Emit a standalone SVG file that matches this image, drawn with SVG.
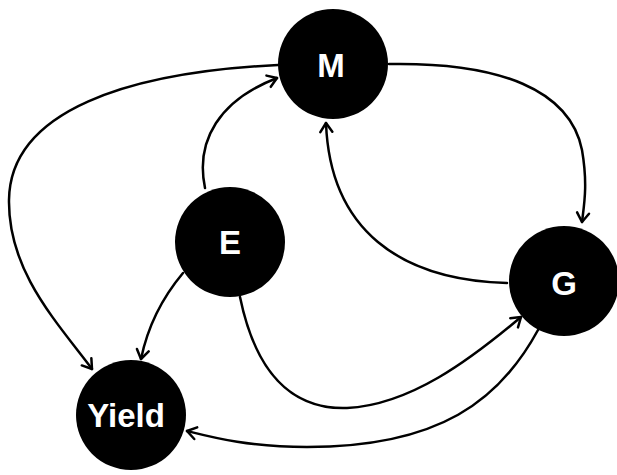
<svg xmlns="http://www.w3.org/2000/svg" width="617" height="475" viewBox="0 0 617 475">
<style>
.node{fill:#000}
.lbl{fill:#fff;font-family:"Liberation Sans",Arial,sans-serif;font-weight:bold;font-size:33px;text-anchor:middle;dominant-baseline:central}
.edge{fill:none;stroke:#000;stroke-width:2.5;stroke-linecap:round;marker-end:url(#arr)}
</style>
<defs>
<marker id="arr" markerUnits="userSpaceOnUse" viewBox="-12 -8 14 16" refX="0" refY="0" markerWidth="14" markerHeight="16" orient="auto">
<path d="M -9 -6 L 0 0 L -9 6" fill="none" stroke="#000" stroke-width="2.5" stroke-linecap="round" stroke-linejoin="round"/>
</marker>
</defs>
<g id="edges">
<path class="edge" d="M 278 65 C 130 72, 10 110, 9 200 C 8 270, 55 320, 92 369"/>
<path class="edge" d="M 205 188 C 195 140, 220 100, 277 78"/>
<path class="edge" d="M 183 273 C 162 298, 148 325, 141 359"/>
<path class="edge" d="M 389 64 C 500 62, 570 90, 582 150 C 588 185, 584 205, 582 222"/>
<path class="edge" d="M 507 283 C 400 280, 330 230, 326 123"/>
<path class="edge" d="M 240 297 C 255 370, 290 410, 347 408 C 410 405, 470 360, 521 317"/>
<path class="edge" d="M 538 330 C 500 400, 440 447, 307 447 C 250 447, 215 438, 187 431"/>
</g>
<g id="M"><circle class="node" cx="333" cy="64" r="55"/><text class="lbl" x="331" y="65">M</text></g>
<g id="E"><circle class="node" cx="230" cy="242" r="55"/><text class="lbl" x="230" y="242">E</text></g>
<g id="G"><circle class="node" cx="564" cy="281" r="55"/><text class="lbl" x="564" y="283">G</text></g>
<g id="Yield"><circle class="node" cx="131" cy="415" r="55"/><text class="lbl" x="126" y="415">Yield</text></g>
</svg>
